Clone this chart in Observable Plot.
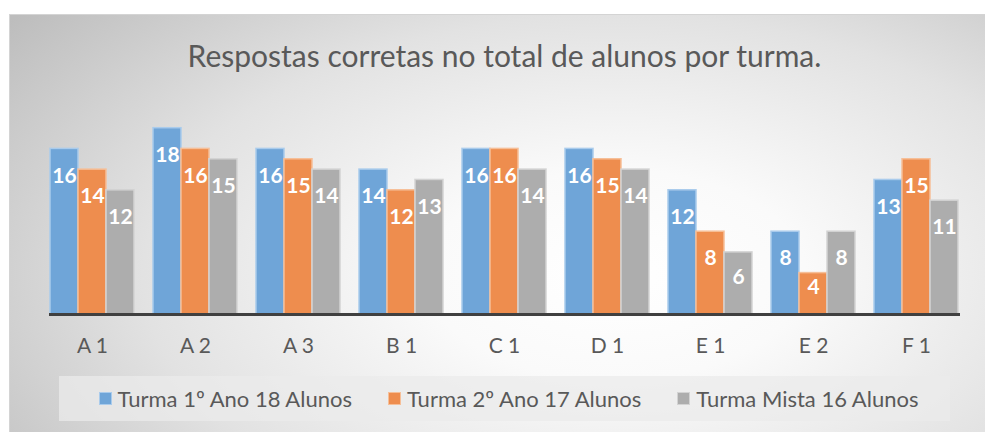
<!DOCTYPE html>
<html>
<head>
<meta charset="utf-8">
<script src="https://cdn.jsdelivr.net/npm/d3@7"></script>
<script src="https://cdn.jsdelivr.net/npm/@observablehq/plot@0.6"></script>
<style>
  html, body { margin: 0; padding: 0; background: #fff; }
  #wrap { position: relative; width: 985px; height: 432px; overflow: hidden; background: #fff; font-family: Lato, "Open Sans", sans-serif; }
  #panel { position: absolute; left: 9px; top: 14px; right: -2px; bottom: -2px;
    border-top: 1px solid #d4d4d4; border-left: 1px solid #d4d4d4;
    background: radial-gradient(ellipse 78% 100% at 62% 62%, #ffffff 0%, #fafafa 25%, #e2e2e2 62%, #bdbdbd 100%); }
  #title { position: absolute; left: 39px; width: 931px; top: 37px; text-align: center; font-size: 30px; color: #595959; white-space: nowrap; }
  #chart { position: absolute; left: 0; top: 0; }
  #legend { position: absolute; left: 59px; top: 376px; width: 891px; height: 45px; background: rgba(235,235,235,0.75);
    display: flex; align-items: center; justify-content: center; gap: 36px; font-size: 22px; color: #595959; padding-left: 8px; box-sizing: border-box; }
  .item { display: flex; align-items: center; gap: 6px; white-space: nowrap; }
  .sw { width: 13px; height: 13px; box-sizing: border-box; border: 1px solid; }
</style>
</head>
<body>
<div id="wrap">
  <div id="panel"></div>
  <div id="title"></div>
  <div id="chart"></div>
  <div id="legend"></div>
</div>
<script>
const title = "Respostas corretas no total de alunos por turma.";
const categories = ["A 1", "A 2", "A 3", "B 1", "C 1", "D 1", "E 1", "E 2", "F 1"];
const series = ["Turma 1º Ano 18 Alunos", "Turma 2º Ano 17 Alunos", "Turma Mista 16 Alunos"];
const turma1 = [16, 18, 16, 14, 16, 16, 12, 8, 13];
const turma2 = [14, 16, 15, 12, 16, 15, 8, 4, 15];
const mista = [12, 15, 14, 13, 14, 14, 6, 8, 11];
const fills = ["#6fa5d8", "#ee8d4e", "#adadad"];
const strokes = ["#a9cbec", "#f6bf98", "#d3d3d3"];

const values = [turma1, turma2, mista];
const data = categories.flatMap((c, i) => series.map((s, j) => ({cat: c, series: s, value: values[j][i]})));

document.getElementById("title").textContent = title;

const legend = document.getElementById("legend");
series.forEach((s, j) => {
  const item = document.createElement("div");
  item.className = "item";
  const sw = document.createElement("div");
  sw.className = "sw";
  sw.style.background = fills[j];
  sw.style.borderColor = strokes[j];
  const t = document.createElement("span");
  t.textContent = s;
  item.appendChild(sw);
  item.appendChild(t);
  legend.appendChild(item);
});

const barMarks = series.map((s, j) =>
  Plot.barY(data.filter(d => d.series === s), {
    fx: "cat", x: "series", y: "value", fill: fills[j], stroke: strokes[j], strokeWidth: 1.5
  })
);

const chart = Plot.plot({
  width: 985, height: 432,
  marginLeft: 39, marginRight: 15, marginTop: 107, marginBottom: 118,
  style: {background: "transparent", fontFamily: "Lato, 'Open Sans', sans-serif", overflow: "visible"},
  fx: {domain: categories, paddingInner: 0.18, paddingOuter: 0.09, label: null},
  x: {domain: series, padding: 0, axis: null},
  y: {domain: [0, 20], axis: null},
  marks: [
    ...barMarks,
    Plot.text(data, {
      fx: "cat", x: "series",
      y: d => Math.max(d.value - 2.6, d.value / 2 + 0.6),
      text: d => String(d.value),
      fill: "white", fontWeight: "bold", fontSize: 21
    }),
    Plot.frame({anchor: "bottom", facet: "super", stroke: "#404040", strokeWidth: 3}),
    Plot.axisFx({anchor: "bottom", tickSize: 0, tickPadding: 24, fontSize: 21, fill: "#595959", label: null})
  ]
});
document.getElementById("chart").appendChild(chart);
</script>
</body>
</html>
